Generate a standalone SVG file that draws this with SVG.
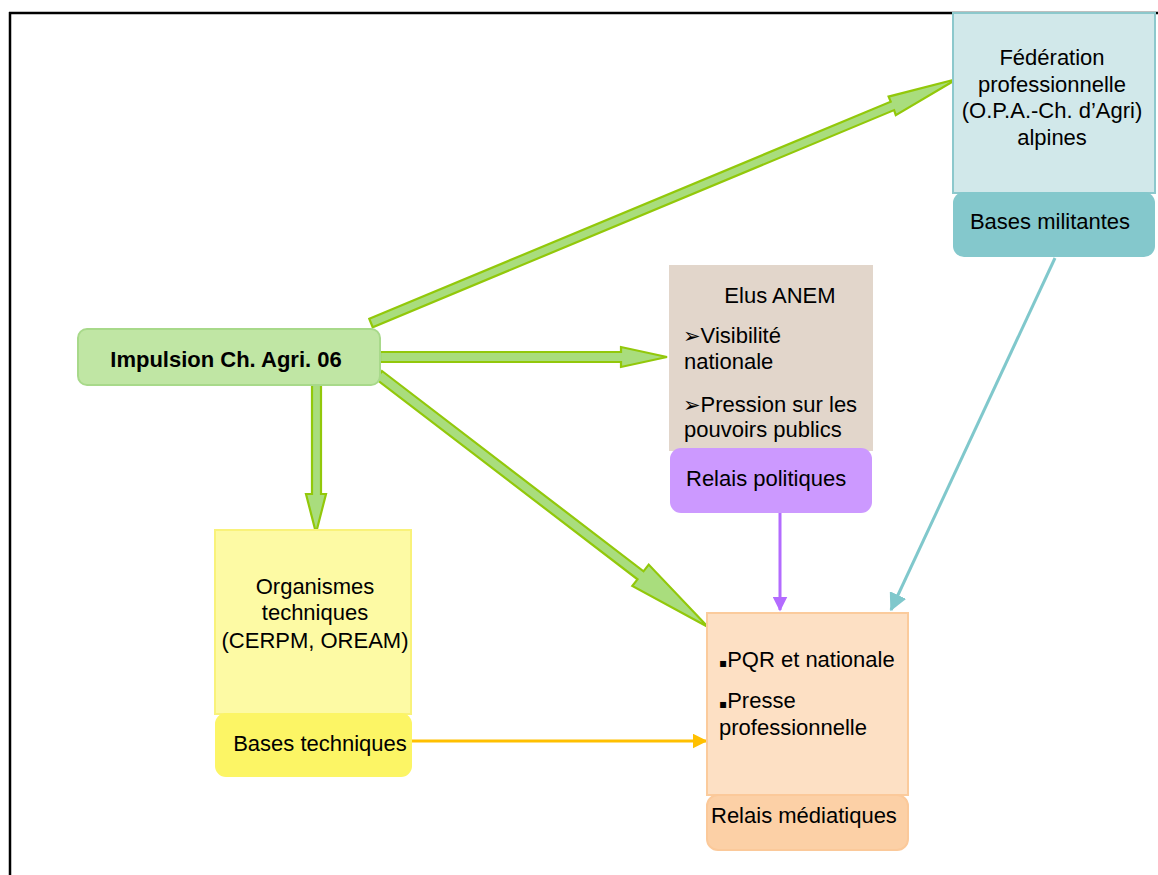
<svg xmlns="http://www.w3.org/2000/svg" width="1158" height="875" viewBox="0 0 1158 875">
<defs>
<style>
text{font-family:"Liberation Sans",Arial,sans-serif;font-size:22px;fill:#000}
.b{font-weight:bold}
.m{text-anchor:middle}
.sym{font-family:"DejaVu Sans",sans-serif;font-size:21px}
.sq{font-family:"DejaVu Sans",sans-serif;font-size:12px}
.blk{fill:#a9dd7d;stroke:#92c80a;stroke-width:2.2;stroke-linejoin:miter}
.ln{fill:none;stroke-width:3}
</style>
<marker id="mp" markerWidth="5" markerHeight="5" refX="4.5" refY="2.5" orient="auto" markerUnits="strokeWidth"><path d="M0,0 L5,2.5 L0,5 z" fill="#b36bff"/></marker>
<marker id="mt" markerWidth="6" markerHeight="6" refX="5.5" refY="3" orient="auto" markerUnits="strokeWidth"><path d="M0,0 L6,3 L0,6 z" fill="#80c8cc"/></marker>
<marker id="my" markerWidth="5" markerHeight="5" refX="4.5" refY="2.5" orient="auto" markerUnits="strokeWidth"><path d="M0,0 L5,2.5 L0,5 z" fill="#ffc000"/></marker>
</defs>
<rect width="1158" height="875" fill="#fff"/>
<path d="M9,13 H1158 M10,12 V875" stroke="#000" stroke-width="2.5" fill="none"/>

<g id="connectors">
<polygon class="blk" points="369.3,318.8 890.7,101.7 888.6,96.6 957,79 895.8,115.2 894.1,110.1 372.7,327.2"/>
<polygon class="blk" points="380,352 621,352 621,347 667,357 621,367 621,362 380,362"/>
<polygon class="blk" points="312,385 312,494 306,494 316,533 326,494 321,494 321,385"/>
<polygon class="blk" points="382,371 643.5,571.3 648.7,564.6 708,627 632.3,586 637.5,579.3 376,379"/>
<line class="ln" x1="780" y1="513" x2="780" y2="610" stroke="#b36bff" marker-end="url(#mp)"/>
<line class="ln" x1="1055" y1="258" x2="891" y2="610" stroke="#80c8cc" stroke-width="2.5" marker-end="url(#mt)"/>
<line class="ln" x1="411" y1="741" x2="706" y2="741" stroke="#ffc000" marker-end="url(#my)"/>
</g>

<g id="impulsion">
<rect x="78" y="329" width="302" height="56" rx="9" fill="#c0e6a4" stroke="#a8d98a" stroke-width="2"/>
<text class="b m" x="226" y="367">Impulsion Ch. Agri. 06</text>
</g>

<g id="federation">
<rect x="953" y="13" width="202" height="180" fill="#d1e8ea" stroke="#8cc8cc" stroke-width="2"/>
<text class="m" x="1052" y="65">Fédération</text>
<text class="m" x="1052" y="92">professionnelle</text>
<text class="m" x="1052" y="118">(O.P.A.-Ch. d’Agri)</text>
<text class="m" x="1052" y="145">alpines</text>
</g>
<g id="bases-militantes">
<rect x="953" y="192" width="202" height="65" rx="11" fill="#84c8cc"/>
<text class="m" x="1050" y="229">Bases militantes</text>
</g>

<g id="elus">
<rect x="669" y="265" width="204" height="186" fill="#e2d6cb"/>
<text class="m" x="780" y="303">Elus ANEM</text>
<text x="683" y="343"><tspan class="sym">➢</tspan>Visibilité</text>
<text x="684" y="369">nationale</text>
<text x="683" y="412"><tspan class="sym">➢</tspan>Pression sur les</text>
<text x="684" y="437">pouvoirs publics</text>
</g>
<g id="relais-politiques">
<rect x="670" y="448" width="202" height="65" rx="11" fill="#cc99ff"/>
<text x="686" y="486">Relais politiques</text>
</g>

<g id="organismes">
<rect x="215" y="530" width="196" height="184" fill="#fdfaa4" stroke="#f9f27a" stroke-width="2"/>
<text class="m" x="315" y="594">Organismes</text>
<text class="m" x="315" y="620">techniques</text>
<text class="m" x="315" y="648">(CERPM, OREAM)</text>
</g>
<g id="bases-techniques">
<rect x="215" y="713" width="197" height="64" rx="11" fill="#fcf565"/>
<text class="m" x="320" y="751">Bases techniques</text>
</g>

<g id="presse">
<rect x="707" y="613" width="201" height="182" fill="#fde0c4" stroke="#fbcb9c" stroke-width="2"/>
<text x="719" y="667"><tspan class="sq">▪</tspan>PQR et nationale</text>
<text x="719" y="708"><tspan class="sq">▪</tspan>Presse</text>
<text x="719" y="735">professionnelle</text>
</g>
<g id="relais-mediatiques">
<rect x="707" y="795" width="201" height="55" rx="11" fill="#fcd0a6" stroke="#fbc99a" stroke-width="2"/>
<text x="711" y="823">Relais médiatiques</text>
</g>
</svg>
